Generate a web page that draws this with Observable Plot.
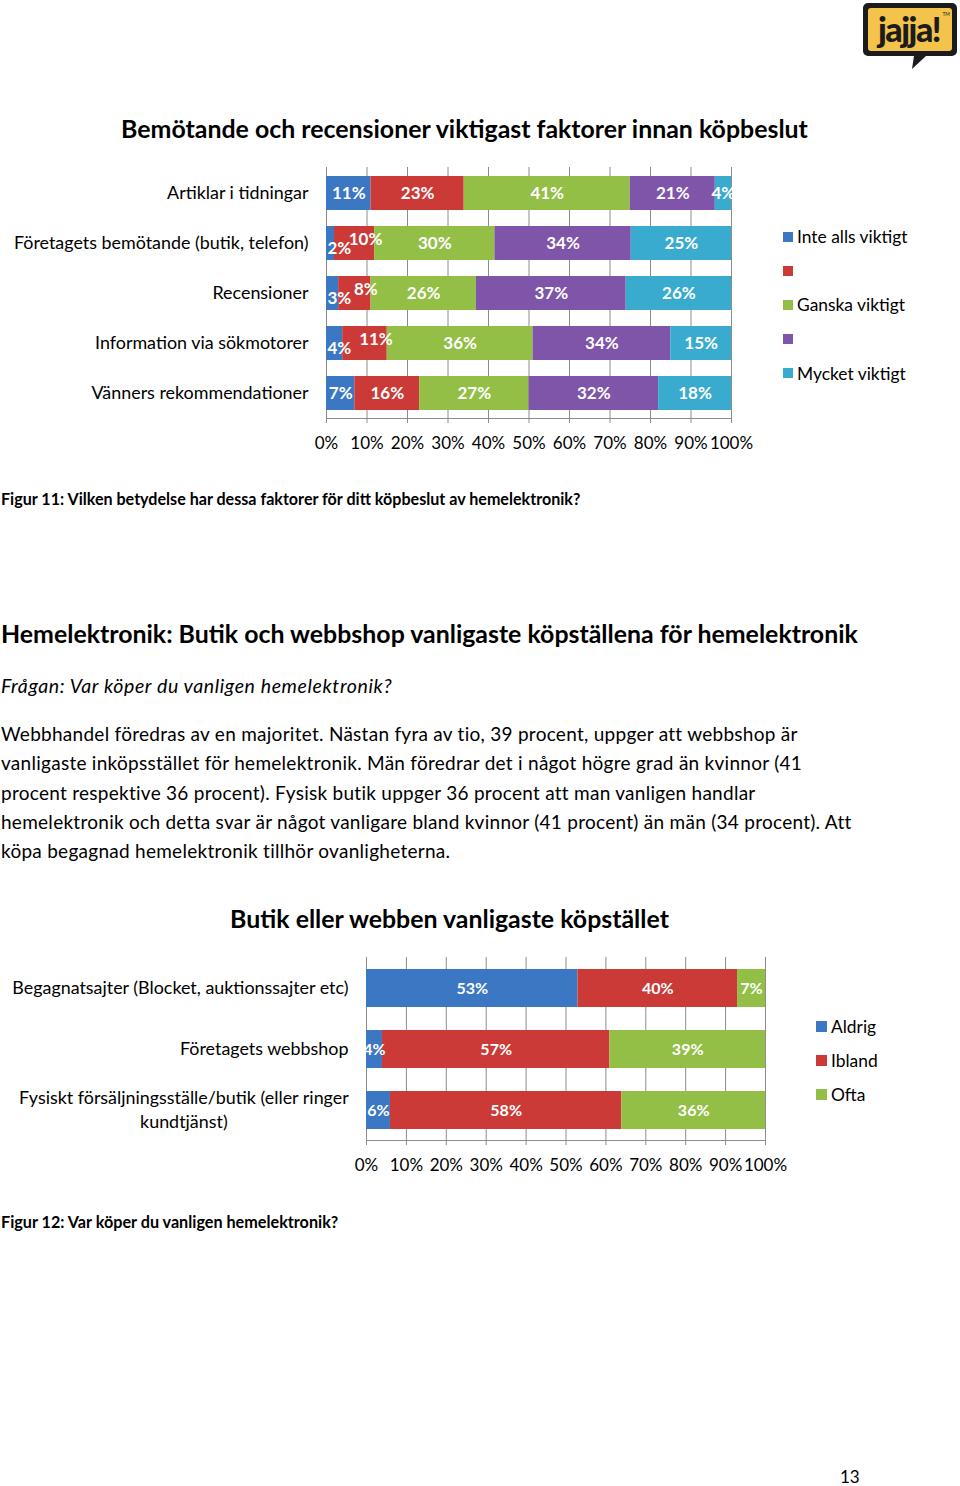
<!DOCTYPE html>
<html><head><meta charset="utf-8">
<script src="https://cdn.jsdelivr.net/npm/d3@7"></script>
<script src="https://cdn.jsdelivr.net/npm/@observablehq/plot@0.6"></script>
<style>
body{margin:0;background:#fff;font-family:Lato,"Noto Sans",sans-serif;color:#000;}
#page{position:relative;width:960px;height:1486px;overflow:hidden;background:#fff;}
.abs{position:absolute;white-space:nowrap;}
.legend .item{position:absolute;white-space:nowrap;font-size:17.4px;line-height:20px;}
.legend .sw{display:inline-block;vertical-align:middle;margin-right:4px;position:relative;top:-2px;}
</style></head><body><div id="page">

<svg class="abs" style="left:862px;top:2px" width="96" height="68" viewBox="0 0 96 68">
<path d="M6 1 H90 a5 5 0 0 1 5 5 V49 a5 5 0 0 1 -5 5 H64 L50 67 L52 54 H6 a5 5 0 0 1 -5 -5 V6 a5 5 0 0 1 5 -5z" fill="#1c1c1c"/>
<rect x="6" y="6" width="84" height="43" rx="3" fill="#f4c34c"/>
<text x="47" y="40" text-anchor="middle" font-family="Lato" font-weight="900" font-size="34" fill="#1c1c1c" letter-spacing="-1.5">jajja!</text>
<text x="88" y="14" text-anchor="end" font-family="Lato" font-size="5" fill="#1c1c1c">TM</text>
</svg>

<div class="abs" style="left:0;width:929px;text-align:center;top:113px;font-size:24.9px;line-height:30px;font-weight:bold;">Bemötande och recensioner viktigast faktorer innan köpbeslut</div>
<div class="abs" id="chart1" style="left:0;top:160px;"></div>
<div class="legend" id="leg1"></div>

<div class="abs" style="left:1px;top:489px;font-size:16.1px;line-height:20px;font-weight:bold;">Figur 11: Vilken betydelse har dessa faktorer för ditt köpbeslut av hemelektronik?</div>

<div class="abs" style="left:1px;top:618px;font-size:24.9px;line-height:30px;font-weight:bold;">Hemelektronik: Butik och webbshop vanligaste köpställena för hemelektronik</div>
<div class="abs" style="left:1px;top:673px;font-size:19.5px;line-height:26px;font-style:italic;letter-spacing:0.62px;">Frågan: Var köper du vanligen hemelektronik?</div>
<div class="abs" style="left:1px;top:719px;font-size:19px;line-height:29.3px;letter-spacing:0.27px;">Webbhandel föredras av en majoritet. Nästan fyra av tio, 39 procent, uppger att webbshop är<br>vanligaste inköpsstället för hemelektronik. Män föredrar det i något högre grad än kvinnor (41<br>procent respektive 36 procent). Fysisk butik uppger 36 procent att man vanligen handlar<br>hemelektronik och detta svar är något vanligare bland kvinnor (41 procent) än män (34 procent). Att<br>köpa begagnad hemelektronik tillhör ovanligheterna.</div>

<div class="abs" style="left:0;width:899px;text-align:center;top:903px;font-size:24.9px;line-height:30px;font-weight:bold;">Butik eller webben vanligaste köpstället</div>
<div class="abs" id="chart2" style="left:0;top:950px;"></div>
<div class="legend" id="leg2"></div>

<div class="abs" style="left:1px;top:1212px;font-size:16.2px;line-height:20px;font-weight:bold;">Figur 12: Var köper du vanligen hemelektronik?</div>
<div class="abs" style="left:840px;top:1469px;font-size:17px;line-height:16px;">13</div>
</div>
<script>
// ---------- Chart 1 data ----------
const categories1 = ["Artiklar i tidningar", "Företagets bemötande (butik, telefon)", "Recensioner", "Information via sökmotorer", "Vänners rekommendationer"];
const series1 = ["Inte alls viktigt", "s2", "Ganska viktigt", "s4", "Mycket viktigt"];
const legendLabels1 = ["Inte alls viktigt", "", "Ganska viktigt", "", "Mycket viktigt"];
const colors1 = ["#3b77c3", "#cb3a37", "#93bf47", "#7f55a9", "#39abcf"];
const values1 = [
  [11, 2, 3, 4, 7],     // Inte alls viktigt
  [23, 10, 8, 11, 16],  // 2
  [41, 30, 26, 36, 27], // Ganska viktigt
  [21, 34, 37, 34, 32], // 4
  [4, 25, 26, 15, 18]   // Mycket viktigt
];
const xTicks = [0, 0.1, 0.2, 0.3, 0.4, 0.5, 0.6, 0.7, 0.8, 0.9, 1];

// ---------- Chart 2 data ----------
const categories2 = ["Begagnatsajter (Blocket, auktionssajter etc)", "Företagets webbshop", "Fysiskt försäljningsställe/butik (eller ringer\nkundtjänst)"];
const series2 = ["Aldrig", "Ibland", "Ofta"];
const colors2 = ["#3b77c3", "#cb3a37", "#93bf47"];
const values2 = [
  [53, 4, 6],   // Aldrig
  [40, 57, 58], // Ibland
  [7, 39, 36]   // Ofta
];

// long-format rows with normalized start/mid (for label placement)
function rowsOf(cats, series, values) {
  const rows = [];
  cats.forEach((c, j) => {
    const total = d3.sum(series, (s, i) => values[i][j]);
    let acc = 0;
    let prevSmall = false;
    series.forEach((s, i) => {
      const v = values[i][j];
      const small = i === 0 && v < 5;
      rows.push({cat: c, series: s, value: v, x0: acc / total, xm: (acc + v / 2) / total,
        small, afterSmall: prevSmall});
      prevSmall = small;
      acc += v;
    });
  });
  return rows;
}

function stackedChart({cats, series, values, colors, height, plotH, marginLeft, marginRight, pIn, pOut, labelSize, tickPad, shiftSmall}) {
  const rows = rowsOf(cats, series, values);
  const fmt = d3.format(".0%");
  const lab = {fill: "white", fontWeight: "bold", fontSize: labelSize, text: d => d.value + "%", y: "cat"};
  const normal = rows.filter(d => !shiftSmall || (!d.small && !d.afterSmall));
  const marks = [
    Plot.gridX(xTicks, {stroke: "#8c8c8c", strokeOpacity: 1}),
    Plot.frame({anchor: "bottom", stroke: "#8c8c8c"}),
    Plot.barX(rows, Plot.stackX({x: "value", y: "cat", fill: "series", offset: "normalize", order: series})),
    Plot.text(normal, {...lab, x: "xm"}),
    Plot.axisX(xTicks, {tickFormat: fmt, tickSize: 5, tickPadding: 13, stroke: "#8c8c8c", fill: "#000", fontSize: 17}),
    Plot.axisY({tickSize: 0, tickPadding: tickPad, fill: "#000", fontSize: 17.9, lineHeight: 1.35, dy: -2})
  ];
  if (shiftSmall) {
    marks.push(Plot.text(rows.filter(d => d.small), {...lab, x: "x0", textAnchor: "start", dx: 1, dy: 5}));
    marks.push(Plot.text(rows.filter(d => d.afterSmall), {...lab, x: "xm", dx: 11, dy: -4}));
  }
  return Plot.plot({
    width: 960, height, marginTop: 7, marginBottom: height - 7 - plotH,
    marginLeft, marginRight,
    style: {fontFamily: "Lato, 'Noto Sans', sans-serif", fontSize: "17px", color: "#000", background: "transparent", overflow: "visible"},
    x: {domain: [0, 1], label: null},
    y: {domain: cats, paddingInner: pIn, paddingOuter: pOut, label: null},
    color: {domain: series, range: colors},
    marks
  });
}

document.getElementById("chart1").append(stackedChart({
  cats: categories1, series: series1, values: values1, colors: colors1,
  height: 293, plotH: 251, marginLeft: 326, marginRight: 229, pIn: 0.32, pOut: 0.14, labelSize: 17, tickPad: 18, shiftSmall: true
}));
document.getElementById("chart2").append(stackedChart({
  cats: categories2, series: series2, values: values2, colors: colors2,
  height: 225, plotH: 183, marginLeft: 366, marginRight: 195, pIn: 0.38, pOut: 0.18, labelSize: 16, tickPad: 18, shiftSmall: false
}));

// center the wrapped two-line category label, as in the reference
document.querySelectorAll("#chart2 svg text").forEach(t => {
  if (t.textContent.includes("kundtj")) {
    const bb = t.getBBox();
    const cx = bb.x + bb.width / 2;
    t.setAttribute("text-anchor", "middle");
    t.querySelectorAll("tspan").forEach(ts => ts.setAttribute("x", cx));
  }
});

function legend(id, labels, colors, left, top0, step, sw) {
  const el = document.getElementById(id);
  labels.forEach((lab, i) => {
    const d = document.createElement("div");
    d.className = "item";
    d.style.left = left + "px";
    d.style.top = (top0 + i * step - 10) + "px";
    d.innerHTML = `<span class="sw" style="width:${sw}px;height:${sw}px;background:${colors[i]}"></span>${lab}`;
    el.append(d);
  });
}
legend("leg1", legendLabels1, colors1, 783, 237, 34.2, 10);
legend("leg2", series2, colors2, 816, 1027, 34, 11);
</script>
</body></html>
